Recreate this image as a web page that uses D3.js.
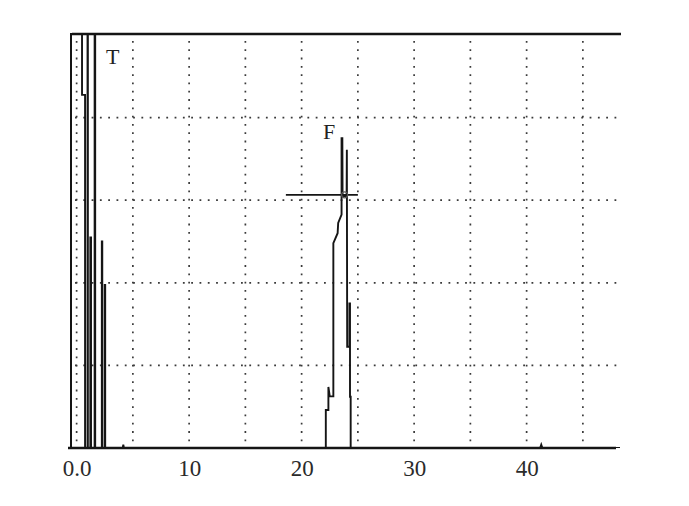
<!DOCTYPE html>
<html>
<head>
<meta charset="utf-8">
<script src="https://cdn.jsdelivr.net/npm/d3@7"></script>
<style>
  html, body { margin: 0; padding: 0; background: #ffffff; }
  svg { display: block; }
</style>
</head>
<body>
<svg id="chart" width="689" height="506"></svg>
<script>
// ---- data ----
const xTicks = [0, 10, 20, 30, 40];
const xTickLabels = ["0.0", "10", "20", "30", "40"];
const xGrid = [0, 5, 10, 15, 20, 25, 30, 35, 40, 45];
const yGrid = [20, 40, 60, 80];

// trace (time, signal); values above 100 run off the top of the chart
const traceX = [
  0.48, 0.48, 0.75, 0.75, 0.97, 0.97, 1.00, 1.00,
  1.22, 1.22, 1.28, 1.28,
  1.60, 1.60, 1.65, 1.65,
  2.24, 2.24, 2.28, 2.28,
  2.50, 2.50, 2.54, 2.54,
  4.10, 4.15, 4.20,
  22.15, 22.15, 22.38, 22.38, 22.50, 22.82, 22.82, 23.20, 23.25, 23.55, 23.55,
  23.62, 23.64, 24.00, 24.02, 24.05, 24.25, 24.25, 24.30, 24.30, 24.36, 24.36,
  41.20, 41.30, 41.40,
  48.30
];
const traceY = [
  110, 85.5, 85.5, 0, 0, 110, 110, 0,
  0, 51, 51, 0,
  0, 110, 110, 0,
  0, 50, 50, 0,
  0, 39.5, 39.5, 0,
  0, 0.8, 0,
  0, 9.2, 9.2, 14.8, 12.5, 12.5, 49.6, 52, 54.5, 56.5, 75,
  75, 61, 61, 72.2, 24.5, 24.5, 35, 35, 12.4, 12.4, 0,
  0, 0.8, 0,
  0
];

const peakLabels = ["T", "F"];
const peakLabelX = [2.6, 21.9];
const peakLabelY = [93, 74.8];

// cursor cross on peak F
const cursorX = [18.6, 25.0];
const cursorY = 61.3;
const cursorCenter = 23.82;

// ---- drawing ----
(function () {
const svg = d3.select("#chart");
const pL = 71, pR = 620, pT = 35, pB = 448;

const x = d3.scaleLinear().domain([-0.5, 48.3]).range([pL, pR]);
const y = d3.scaleLinear().domain([0, 100]).range([pB, pT]);

const ink = "#151515";

svg.append("defs").append("clipPath").attr("id", "plotclip")
  .append("rect").attr("x", pL).attr("y", pT)
  .attr("width", pR - pL + 2).attr("height", pB - pT);

// dotted grid
const grid = svg.append("g").attr("stroke", "#3a3a3a")
  .attr("stroke-width", 1.7).attr("stroke-dasharray", "1.8,6.5");
grid.selectAll("line.v").data(xGrid).join("line")
  .attr("class", "v")
  .attr("x1", d => x(d)).attr("x2", d => x(d))
  .attr("y1", pT + 6).attr("y2", pB - 4);
grid.selectAll("line.h").data(yGrid).join("line")
  .attr("class", "h")
  .attr("x1", pL + 4).attr("x2", pR - 2)
  .attr("y1", d => y(d)).attr("y2", d => y(d));

// frame: top, left, bottom
svg.append("line").attr("x1", pL + 1).attr("x2", pR + 1)
  .attr("y1", pT - 1).attr("y2", pT - 1)
  .attr("stroke", ink).attr("stroke-width", 2.6);
svg.append("line").attr("x1", pL).attr("x2", pL)
  .attr("y1", pT - 2).attr("y2", pB)
  .attr("stroke", ink).attr("stroke-width", 2);
svg.append("line").attr("x1", pL - 3).attr("x2", pR - 4)
  .attr("y1", pB).attr("y2", pB)
  .attr("stroke", ink).attr("stroke-width", 2.6);

// trace
const pts = traceX.map((d, i) => [d, traceY[i]]);
const line = d3.line().x(d => x(d[0])).y(d => y(d[1]));
svg.append("path")
  .attr("clip-path", "url(#plotclip)")
  .attr("d", line(pts))
  .attr("fill", "none")
  .attr("stroke", ink)
  .attr("stroke-width", 1.9)
  .attr("stroke-linejoin", "miter");

// cursor cross
svg.append("line")
  .attr("x1", x(cursorX[0])).attr("x2", x(cursorX[1]))
  .attr("y1", y(cursorY)).attr("y2", y(cursorY))
  .attr("stroke", ink).attr("stroke-width", 1.8);
svg.append("circle")
  .attr("cx", x(cursorCenter)).attr("cy", y(cursorY)).attr("r", 3)
  .attr("fill", "none").attr("stroke", "#555").attr("stroke-width", 1.2);

// peak labels
svg.selectAll("text.peak").data(peakLabels).join("text")
  .attr("class", "peak")
  .attr("x", (d, i) => x(peakLabelX[i]))
  .attr("y", (d, i) => y(peakLabelY[i]))
  .attr("font-family", "'Liberation Serif', 'DejaVu Serif', serif")
  .attr("font-size", 22)
  .attr("fill", "#222")
  .text(d => d);

// x axis labels
const axis = d3.axisBottom(x).tickValues(xTicks)
  .tickFormat((d, i) => xTickLabels[i]).tickSize(0).tickPadding(12);
const ax = svg.append("g").attr("transform", `translate(0,${pB})`).call(axis);
ax.select(".domain").remove();
ax.selectAll("text")
  .attr("font-family", "'Liberation Serif', 'DejaVu Serif', serif")
  .attr("font-size", 23)
  .attr("fill", "#2a2a2a");
})();
</script>
</body>
</html>
